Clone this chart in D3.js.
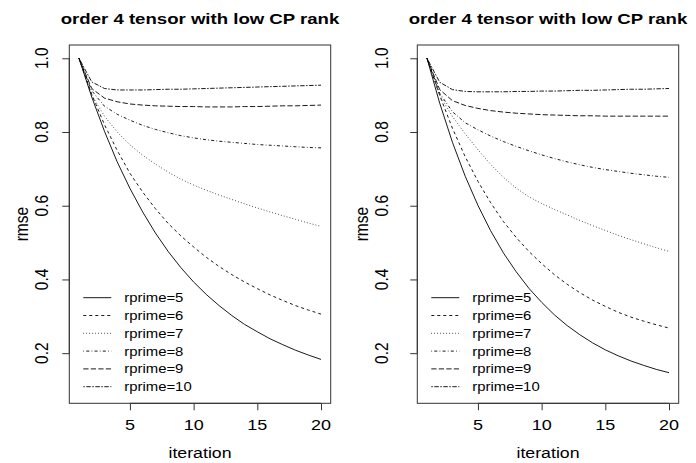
<!DOCTYPE html>
<html><head><meta charset="utf-8">
<script src="https://cdn.jsdelivr.net/npm/d3@7"></script>
<style>
body{margin:0;background:#fff}
svg{display:block}
text{font-family:"Liberation Sans",Arial,Helvetica,sans-serif;fill:#000}
</style>
</head><body>
<svg id="chart" width="696" height="463"></svg>
<script>
// ---------- data ----------
const iterations = [1,2,3,4,5,6,7,8,9,10,11,12,13,14,15,16,17,18,19,20];
const seriesNames = ["rprime=5","rprime=6","rprime=7","rprime=8","rprime=9","rprime=10"];
const xTicks = [5,10,15,20];
const yTicks = [0.2,0.4,0.6,0.8,1.0];
const panelTitles = ["order 4 tensor with low CP rank","order 4 tensor with low CP rank"];
const xLabel = "iteration";
const yLabel = "rmse";

// left panel
const leftR5  = [1.000,0.895,0.802,0.719,0.647,0.583,0.526,0.476,0.432,0.393,0.359,0.329,0.302,0.278,0.258,0.239,0.223,0.208,0.195,0.183];
const leftR6  = [1.000,0.902,0.820,0.750,0.688,0.637,0.592,0.552,0.518,0.488,0.460,0.435,0.413,0.393,0.375,0.358,0.343,0.329,0.317,0.306];
const leftR7  = [1.000,0.900,0.843,0.800,0.765,0.737,0.713,0.691,0.672,0.656,0.642,0.629,0.617,0.605,0.594,0.583,0.573,0.563,0.553,0.544];
const leftR8  = [1.000,0.912,0.870,0.848,0.832,0.818,0.807,0.798,0.790,0.784,0.779,0.775,0.772,0.769,0.766,0.764,0.762,0.760,0.758,0.757];
const leftR9  = [1.000,0.918,0.892,0.882,0.876,0.873,0.871,0.870,0.869,0.869,0.868,0.868,0.868,0.869,0.869,0.870,0.871,0.871,0.872,0.873];
const leftR10 = [1.000,0.936,0.918,0.914,0.914,0.914,0.915,0.916,0.916,0.917,0.918,0.919,0.920,0.921,0.922,0.923,0.924,0.925,0.926,0.927];

// right panel
const rightR5  = [1.000,0.878,0.772,0.680,0.601,0.532,0.472,0.421,0.376,0.338,0.304,0.275,0.250,0.228,0.209,0.193,0.179,0.167,0.156,0.147];
const rightR6  = [1.000,0.899,0.810,0.733,0.666,0.608,0.557,0.514,0.476,0.443,0.413,0.387,0.364,0.344,0.327,0.311,0.298,0.287,0.277,0.268];
const rightR7  = [1.000,0.900,0.842,0.795,0.752,0.712,0.677,0.648,0.624,0.606,0.590,0.575,0.560,0.546,0.533,0.520,0.508,0.497,0.486,0.476];
const rightR8  = [1.000,0.905,0.855,0.825,0.806,0.789,0.774,0.761,0.749,0.738,0.728,0.719,0.711,0.704,0.698,0.693,0.688,0.684,0.680,0.677];
const rightR9  = [1.000,0.915,0.885,0.872,0.864,0.858,0.854,0.851,0.849,0.847,0.846,0.845,0.844,0.844,0.843,0.843,0.843,0.843,0.843,0.843];
const rightR10 = [1.000,0.935,0.915,0.910,0.909,0.909,0.909,0.910,0.910,0.911,0.911,0.912,0.913,0.913,0.914,0.915,0.916,0.916,0.917,0.918];

const leftSeries  = [leftR5,leftR6,leftR7,leftR8,leftR9,leftR10];
const rightSeries = [rightR5,rightR6,rightR7,rightR8,rightR9,rightR10];

// ---------- style ----------
const dashes = [null,"3,3","0.75,2.25","0.75,2.25,3,2.25","5.25,2.25","1.5,1.5,4.5,1.5"];
const xDomain = [0.24, 20.76];
const yDomain = [0.064, 1.036];
const boxW = 261.4, boxTop = 45, boxBottom = 403.3;
const SX = 1.2;   // horizontal stretch of text, as in the reference raster

const svg = d3.select("#chart");

function hText(g, x, y, str, size, opts={}){
  const t = g.append("text")
    .attr("transform",`translate(${x},${y}) scale(${SX},1)`)
    .attr("text-anchor", opts.anchor || "middle")
    .attr("font-size", size)
    .text(str);
  if (opts.bold) t.attr("font-weight","bold");
  if (opts.dy) t.attr("dy", opts.dy);
  return t;
}
function vText(g, x, y, str, size){
  return g.append("text")
    .attr("transform",`translate(${x},${y}) scale(${SX},1) rotate(-90)`)
    .attr("text-anchor","middle").attr("dy","0.36em")
    .attr("font-size", size).text(str);
}

function drawPanel(x0, series, title, yTickOff, yLabOff){
  const g = svg.append("g");
  const x = d3.scaleLinear().domain(xDomain).range([x0, x0+boxW]);
  const y = d3.scaleLinear().domain(yDomain).range([boxBottom, boxTop]);

  const line = d3.line().x((d,i)=>x(iterations[i])).y(d=>y(d));
  series.forEach((s,k)=>{
    g.append("path").attr("d", line(s))
      .attr("fill","none").attr("stroke","#000")
      .attr("stroke-width", 0.9)
      .attr("stroke-dasharray", dashes[k]);
  });

  g.append("rect").attr("x",x0).attr("y",boxTop)
    .attr("width",boxW).attr("height",boxBottom-boxTop)
    .attr("fill","none").attr("stroke","#333").attr("stroke-width",1);

  // x axis
  const xa = g.append("g").attr("transform",`translate(0,${boxBottom})`)
    .call(d3.axisBottom(x).tickValues(xTicks).tickSize(7).tickFormat(""));
  xa.select(".domain").remove();
  xa.append("line").attr("x1",x(xTicks[0])).attr("x2",x(xTicks[xTicks.length-1])).attr("stroke","#333");
  xa.selectAll(".tick line").attr("stroke","#333");
  xTicks.forEach(v=> hText(g, x(v), 430, String(v), 15));

  // y axis
  const ya = g.append("g").attr("transform",`translate(${x0},0)`)
    .call(d3.axisLeft(y).tickValues(yTicks).tickSize(7).tickFormat(""));
  ya.select(".domain").remove();
  ya.append("line").attr("y1",y(yTicks[0])).attr("y2",y(yTicks[yTicks.length-1])).attr("stroke","#333");
  ya.selectAll(".tick line").attr("stroke","#333");
  yTicks.forEach(v=> vText(g, x0 - yTickOff, y(v), d3.format(".1f")(v), 15.5));

  // axis titles
  hText(g, x0+boxW/2, 458, xLabel, 14.8);
  vText(g, x0 - yLabOff, (boxTop+boxBottom)/2, yLabel, 15.5);

  // title
  hText(g, x0+boxW/2, 24, title, 15.5, {bold:true});

  // legend
  seriesNames.forEach((name,k)=>{
    const ly = 297.7 + k*17.8;
    g.append("line").attr("x1",x0+14).attr("x2",x0+42)
      .attr("y1",ly).attr("y2",ly)
      .attr("stroke","#000").attr("stroke-width",0.9)
      .attr("stroke-dasharray",dashes[k]);
    hText(g, x0+55, ly, name, 12.4, {anchor:"start", dy:"0.36em"});
  });
}

drawPanel(69.3, leftSeries, panelTitles[0], 28.3, 47.6);
drawPanel(417.3, rightSeries, panelTitles[1], 36.5, 55.6);
</script>
</body></html>
